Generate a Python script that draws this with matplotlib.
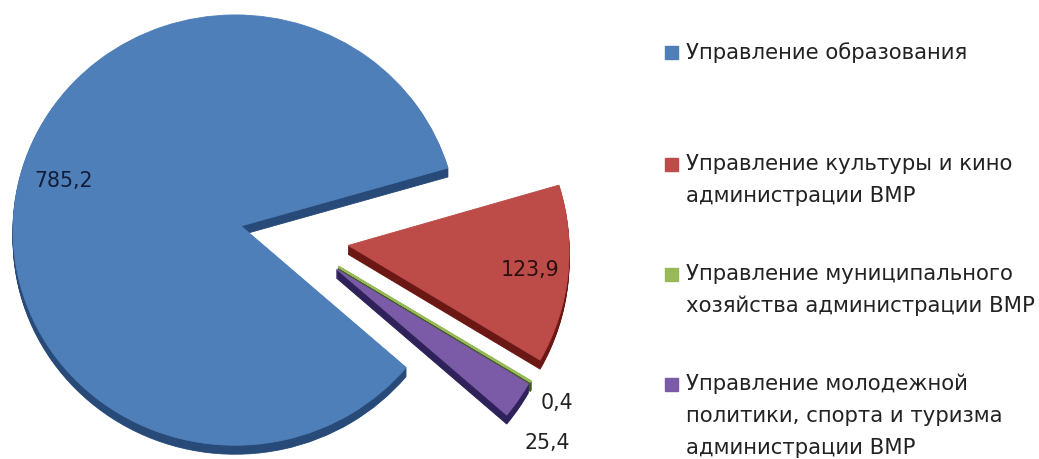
import matplotlib
matplotlib.use('Agg')
import matplotlib.pyplot as plt
from matplotlib.patches import Rectangle
from matplotlib.transforms import Transform
import numpy as np

values = [785.2, 123.9, 0.4, 25.4]
names = ['Управление образования',
         'Управление культуры и кино\nадминистрации ВМР',
         'Управление муниципального\nхозяйства администрации ВМР',
         'Управление молодежной\nполитики, спорта и туризма\nадминистрации ВМР']
explode = [0, 0.47, 0.47, 0.47]
top_colors = ['#4f7fb9', '#bd4c49', '#97b957', '#7b5ba7']
wall_colors = ['#274a78', '#6b1714', '#43582a', '#2f2159']

W, H = 1039, 459

# the picture is not a clean explode, small per slice fixes in pixels
nudge = [(0, 0), (5, -6), (9, 12), (12, 17)]
radius = [1, 1.045, 1.04, 1.04]
edge_width = [0.6, 0.6, 1.6, 0.6]


class TiltTransform(Transform):
    # pie lies on a tilted plane, maps pie units to pixels (y up)
    input_dims = 2
    output_dims = 2

    def __init__(self, dx=0, dy=0):
        super().__init__()
        self.dx = dx
        self.dy = dy

    def transform_non_affine(self, values):
        u, v = np.asarray(values).T
        w = 1 + 0.026 * u + 0.019 * v
        return np.column_stack([241 + 222 * u / w + self.dx, H - 226 + 215 * v / w + self.dy])


fig = plt.figure(figsize=(W / 100, H / 100), dpi=100)
ax = fig.add_axes([0, 0, 1, 1])


def draw_layer(colors, drop):
    wedges, _ = ax.pie(values, explode=explode, colors=colors, startangle=-41.5, counterclock=False)
    for wedge, (dx, dy), r, lw in zip(wedges, nudge, radius, edge_width):
        wedge.set_radius(r)
        wedge.set_edgecolor(wedge.get_facecolor())
        wedge.set_linewidth(lw)
        wedge.set_transform(TiltTransform(dx, dy - drop) + ax.transData)
        wedge.set_clip_on(False)


# side walls first, then the top face
for drop in range(9, 0, -1):
    draw_layer(wall_colors, drop)
draw_layer(top_colors, 0)

ax.set_aspect('auto')
ax.set_xlim(0, W)
ax.set_ylim(0, H)
ax.axis('off')

# value labels
value_xy = [(64, 181), (530, 270), (557, 403), (547, 443)]
value_colors = ['#101c38', '#2a0e10', '#222222', '#222222']
for v, (x, y), c in zip(values, value_xy, value_colors):
    ax.text(x, H - y, str(v).replace('.', ','), color=c, fontsize=14.8, ha='center', va='center')

# legend, handles line up with the first line of each entry
legend_y = [53, 165, 275, 385]
for name, y, c in zip(names, legend_y, top_colors):
    ax.add_patch(Rectangle((665, H - y - 6), 13, 13, color=c))
    ax.text(686, H - y + 11, name, color='#222222', fontsize=15.3, ha='left', va='top', linespacing=1.72)

fig.savefig('out.png', dpi=100)
